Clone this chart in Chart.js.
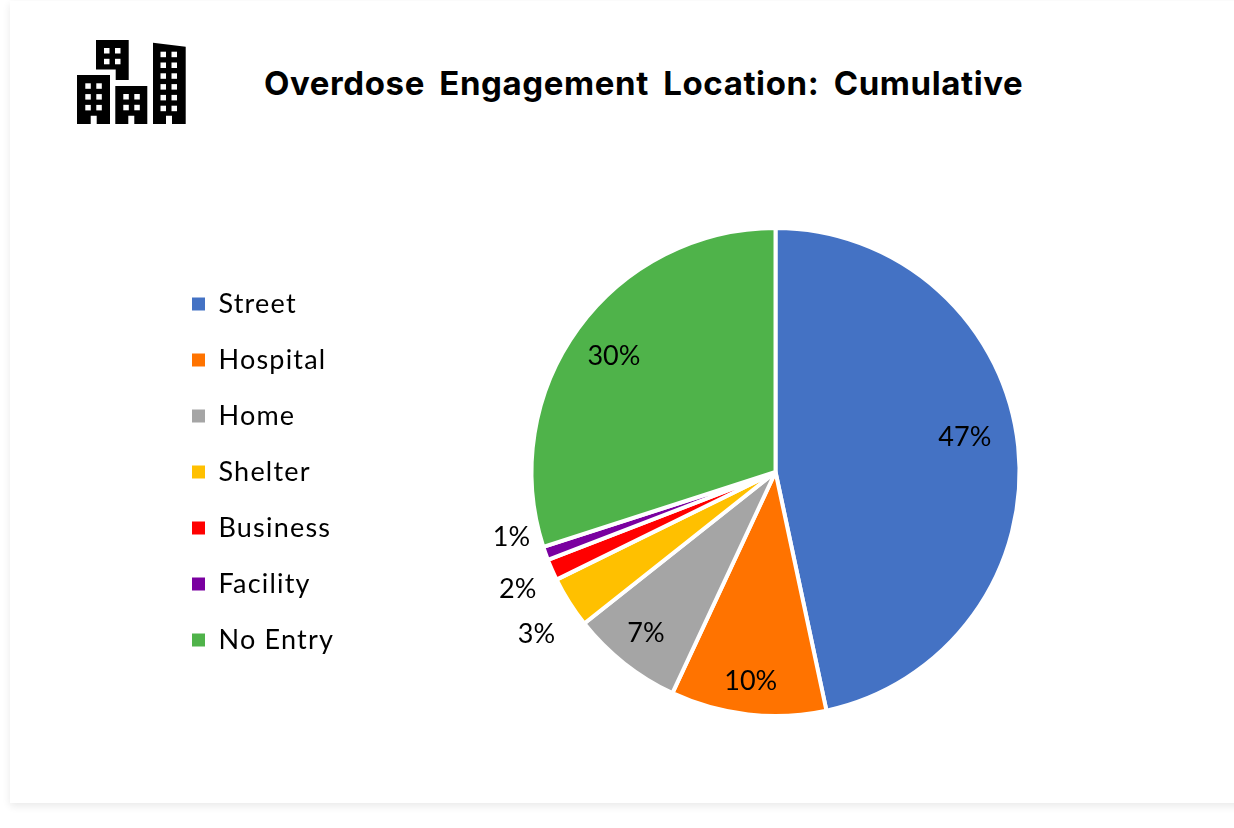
<!DOCTYPE html>
<html>
<head>
<meta charset="utf-8">
<title>Overdose Engagement Location: Cumulative</title>
<script src="https://cdn.jsdelivr.net/npm/chart.js@4/dist/chart.umd.min.js"></script>
<style>
    html, body { margin: 0; padding: 0; background: #fff; overflow: hidden; }
    #page { position: relative; width: 1234px; height: 828px; overflow: hidden; }
    #card { position: absolute; left: 10px; top: 1px; width: 1300px; height: 802px; background: #fff;
            box-shadow: 0 3px 8px rgba(0,0,0,0.09); }
    #icon { position: absolute; left: 0; top: 0; }
    #title { position: absolute; left: 264px; top: 62px; margin: 0; white-space: nowrap;
             font: 700 33px Inter, sans-serif; line-height: 42px; color: #000;
             letter-spacing: 0.6px; word-spacing: 6px; }
    #chartWrap { position: absolute; left: 163px; top: 0; width: 1071px; height: 828px; }
</style>
</head>
<body>
<div id="page">
    <div id="card"></div>
    <svg id="icon" width="200" height="130">
        <path d="M96 40H128.7V80H115.7V69.5H96Z"/>
        <path d="M77 75H110V124H96.7V115.7H90.7V124H77Z"/>
        <path d="M115.3 86H147.3V124H134.3V115.7H128.3V124H115.3Z"/>
        <path d="M153 42.7L185.7 46.7V124H172V115.7H166V124H153Z"/>
        <g fill="#fff" id="windows"></g>
    </svg>
    <h1 id="title">Overdose Engagement Location: Cumulative</h1>
    <div id="chartWrap"><canvas id="chart1"></canvas></div>
</div>
<script>
    var categories = ['Street', 'Hospital', 'Home', 'Shelter', 'Business', 'Facility', 'No Entry'];
    var shares = [46.7, 10.3, 7.4, 3.4, 1.4, 0.9, 30];
    var shareLabels = ['47%', '10%', '7%', '3%', '2%', '1%', '30%'];
    var colours = ['#4472c4', '#ff7300', '#a5a5a5', '#ffc000', '#ff0000', '#7a00a0', '#4fb34a'];

    // little windows on the building icon
    var windowRows = [
        [104, 48, 2, 2], [85.3, 83.3, 2, 3], [123.3, 94, 2, 2], [160.5, 51.7, 2, 6]
    ];
    var winGroup = document.getElementById('windows');
    windowRows.forEach(function(w) {
        for (var c = 0; c < w[2]; c++) {
            for (var r = 0; r < w[3]; r++) {
                var rect = document.createElementNS('http://www.w3.org/2000/svg', 'rect');
                rect.setAttribute('x', w[0] + c * 11);
                rect.setAttribute('y', w[1] + r * 10.8);
                rect.setAttribute('width', 5.5);
                rect.setAttribute('height', 5.5);
                winGroup.appendChild(rect);
            }
        }
    });

    // wider legend text, a canvas resize wipes it so set it again each pass
    var legendSpacing = {
        id: 'legendSpacing',
        beforeLayout: function(chart) {
            chart.ctx.letterSpacing = '1.2px';
        },
        beforeDraw: function(chart) {
            chart.ctx.letterSpacing = '1.2px';
        }
    };

    // percent labels, nudged away from each slice's own centre point
    var sliceLabels = {
        id: 'sliceLabels',
        afterDatasetsDraw: function(chart, args, opts) {
            var ctx = chart.ctx;
            ctx.save();
            ctx.letterSpacing = '0px';
            ctx.font = '27px Lato, sans-serif';
            ctx.fillStyle = '#000';
            ctx.textAlign = 'center';
            ctx.textBaseline = 'middle';
            chart.getDatasetMeta(0).data.forEach(function(arc, i) {
                var p = arc.tooltipPosition();
                ctx.fillText(shareLabels[i], p.x + opts.nudge[i][0], p.y + opts.nudge[i][1]);
            });
            ctx.restore();
        }
    };

    new Chart(document.getElementById('chart1'), {
        type: 'pie',
        data: {
            labels: categories,
            datasets: [{
                data: shares,
                backgroundColor: colours,
                borderColor: '#fff',
                borderWidth: 4
            }]
        },
        options: {
            responsive: true,
            maintainAspectRatio: false,
            animation: false,
            layout: { padding: { top: 226, bottom: 110, right: 27 } },
            plugins: {
                title: { display: false },
                tooltip: { enabled: false },
                legend: {
                    position: 'left',
                    labels: {
                        boxWidth: 13,
                        boxHeight: 13,
                        padding: 29,
                        color: '#000',
                        font: { family: 'Lato, sans-serif', size: 27 },
                        generateLabels: function(chart) {
                            // no white edge on the legend squares
                            return Chart.overrides.pie.plugins.legend.labels.generateLabels(chart).map(function(item) {
                                item.lineWidth = 0;
                                return item;
                            });
                        }
                    }
                },
                sliceLabels: {
                    nudge: [[68, -22], [-11, 88], [-54, 66], [-136, 97], [-146, 68], [-149, 25], [-63, -44]]
                }
            }
        },
        plugins: [legendSpacing, sliceLabels]
    });
</script>
</body>
</html>
